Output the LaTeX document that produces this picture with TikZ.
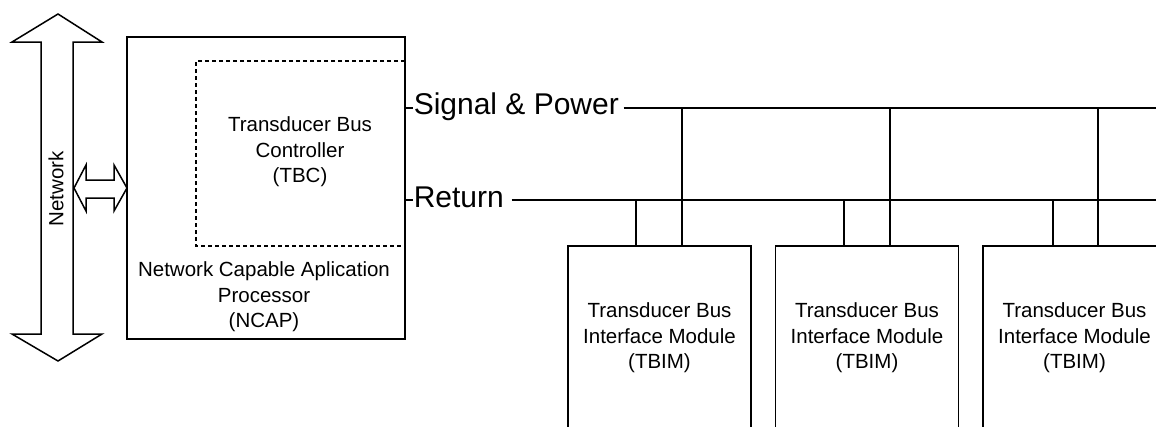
\documentclass[tikz,border=0pt]{standalone}
\usepackage{fontspec}
\setmainfont{Liberation Sans}
\begin{document}
\begin{tikzpicture}[x=1pt,y=-1pt,line width=1.5pt,line join=miter,
  box/.style={draw,rectangle,inner sep=0pt},
  txt/.style={font=\fontsize{20.5}{25.5}\selectfont,align=center,inner sep=0pt},
  buslabel/.style={font=\fontsize{30}{31}\selectfont,inner sep=0pt,anchor=base west},
  tbcline/.style={dash pattern=on 4pt off 3pt}]
\useasboundingbox (0,0) rectangle (1156,426);
\clip (0,0) rectangle (1156,426);
% network double arrow
\draw (58,14) -- (102,42) -- (73,42) -- (73,334) -- (102,334) -- (58,361)
  -- (12,334) -- (41,334) -- (41,42) -- (12,42) -- cycle;
\node[txt,rotate=90] (net) at (56,189) {Network};
% small double arrow
\draw (74,188) -- (86,165) -- (86,180) -- (114,180) -- (114,165) -- (127,188)
  -- (114,211) -- (114,198) -- (86,198) -- (86,211) -- cycle;
% NCAP
\node[box,minimum width=278,minimum height=302] (ncap) at (266,188) {};
\node[txt] (ncaptxt) at (264,297) {Network Capable Aplication\\Processor\\(NCAP)};
% TBC dashed
\draw[tbcline] (405,61) -- (196,61) -- (196,246) -- (405,246);
\node[txt] (tbc) at (300,152) {Transducer Bus\\Controller\\(TBC)};
% buses
\coordinate (sigy) at (0,108);
\coordinate (rety) at (0,200);
\node[buslabel] (sig) at (413,114) {Signal \& Power};
\node[buslabel] (ret) at (413,207) {Return};
\draw (ncap.east |- sigy) -- (sig.west |- sigy);
\draw (ncap.east |- rety) -- (ret.west |- rety);
\coordinate (sigEnd) at (1160,108);
\coordinate (retEnd) at (1160,200);
\draw ([xshift=4pt]sig.east |- sigy) -- (sigEnd);
\draw ([xshift=7pt]ret.east |- rety) -- (retEnd);
% TBIM boxes
\foreach \i/\cx/\rx/\sx in {1/659.5/636/682, 2/867/844/890, 3/1074.5/1053/1098}{
  \node[box,minimum width=183,minimum height=300] (b\i) at (\cx,396) {};
  \node[txt] (b\i txt) at (\cx,338) {Transducer Bus\\Interface Module\\(TBIM)};
  \coordinate (s\i) at (\sx,108);
  \coordinate (r\i) at (\rx,200);
  \draw (s\i) -- (s\i |- b\i.north);
  \draw (r\i) -- (r\i |- b\i.north);
}
\end{tikzpicture}
\end{document}
